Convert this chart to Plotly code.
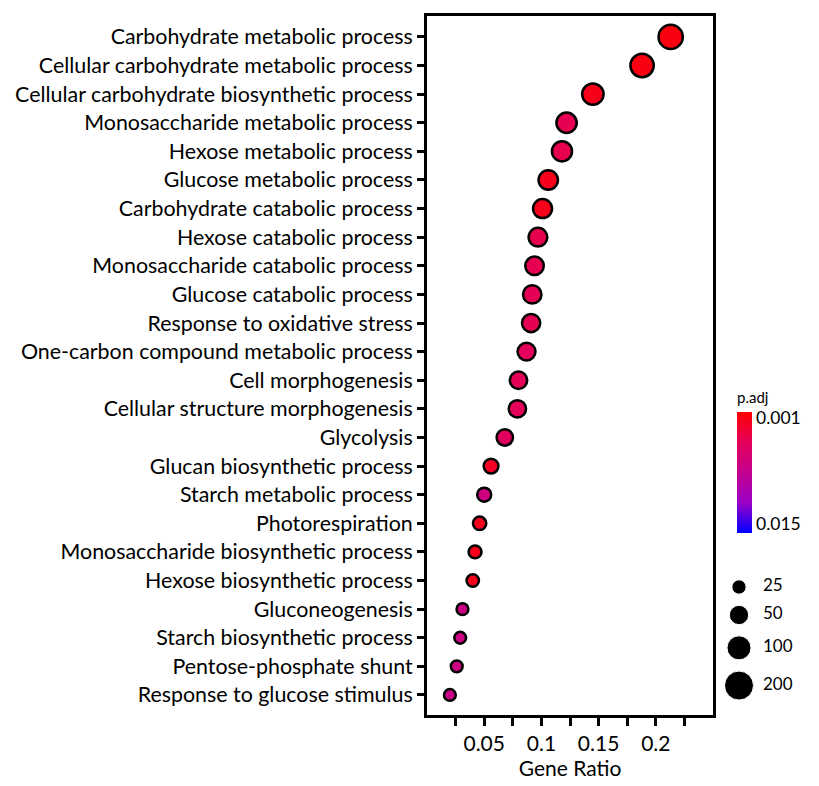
import numpy as np
import plotly.graph_objects as go

# GO terms, top to bottom
terms = [
    "Carbohydrate metabolic process",
    "Cellular carbohydrate metabolic process",
    "Cellular carbohydrate biosynthetic process",
    "Monosaccharide metabolic process",
    "Hexose metabolic process",
    "Glucose metabolic process",
    "Carbohydrate catabolic process",
    "Hexose catabolic process",
    "Monosaccharide catabolic process",
    "Glucose catabolic process",
    "Response to oxidative stress",
    "One-carbon compound metabolic process",
    "Cell morphogenesis",
    "Cellular structure morphogenesis",
    "Glycolysis",
    "Glucan biosynthetic process",
    "Starch metabolic process",
    "Photorespiration",
    "Monosaccharide biosynthetic process",
    "Hexose biosynthetic process",
    "Gluconeogenesis",
    "Starch biosynthetic process",
    "Pentose-phosphate shunt",
    "Response to glucose stimulus",
]
gene_ratio = [0.213, 0.188, 0.145, 0.122, 0.118, 0.106, 0.101, 0.097, 0.094, 0.092,
              0.091, 0.087, 0.080, 0.079, 0.068, 0.056, 0.050, 0.046, 0.042, 0.040,
              0.031, 0.029, 0.026, 0.020]
counts = [146, 129, 99, 84, 81, 73, 69, 66, 64, 63, 62, 59, 55, 54, 47, 38, 34, 31,
          29, 27, 21, 20, 18, 14]
p_adj = [0.0008, 0.0009, 0.0013, 0.0039, 0.0037, 0.0015, 0.0014, 0.0037, 0.0038,
         0.0040, 0.0039, 0.0042, 0.0041, 0.0043, 0.0045, 0.0018, 0.0071, 0.0015,
         0.0013, 0.0014, 0.0074, 0.0072, 0.0073, 0.0075]
p_limits = [0.0002, 0.0162]   # colour bar ends
p_breaks = [0.001, 0.015]
p_break_labels = ["0.001", "0.015"]

# size legend
size_breaks = [25, 50, 100, 200]
size_labels = ["25", "50", "100", "200"]
size_diam = [14.3, 19.3, 24, 29]  # px, size scale

x_ticks = [0.025, 0.05, 0.075, 0.1, 0.125, 0.15, 0.175, 0.2, 0.225]
x_ticktext = ["", "0.05", "", "0.1", "", "0.15", "", "0.2", ""]

FONT = "Lato"
OUTLINE = 2.5

diam = np.interp(np.log(counts), np.log(size_breaks), size_diam)
# red at small p.adj, blue at large; negated so red sits on top of the bar
scale = [[0, "#0000FF"], [0.25, "#9A00C8"], [0.5, "#C4008F"],
         [0.75, "#E4005A"], [1, "#FF0000"]]

fig = go.Figure()
fig.add_trace(go.Scatter(
    x=gene_ratio, y=terms, mode="markers", showlegend=False,
    marker=dict(
        size=diam - OUTLINE, opacity=1,
        color=[-p for p in p_adj], cmin=-p_limits[1], cmax=-p_limits[0],
        colorscale=scale,
        line=dict(color="black", width=OUTLINE),
        colorbar=dict(
            title=dict(text="p.adj", side="top", font=dict(family=FONT, size=15)),
            tickvals=[-b for b in p_breaks], ticktext=p_break_labels,
            tickfont=dict(family=FONT, size=17.5), ticks="", outlinewidth=0,
            thickness=15, lenmode="pixels", len=144,
            x=0.791, xanchor="left", y=0.364, yanchor="middle",
            xpad=0, ypad=0,
        ),
    ),
))

# size legend drawn on its own small axes
gap = 11.2
centers = [27.0]
for i in range(1, len(size_diam)):
    centers.append(centers[-1] + (size_diam[i - 1] + size_diam[i]) / 2 + gap)
fig.add_trace(go.Scatter(
    x=[14] * len(size_breaks), y=centers, mode="markers", showlegend=False,
    marker=dict(size=size_diam, color="black", opacity=1), xaxis="x2", yaxis="y2",
    hoverinfo="skip",
))
fig.add_trace(go.Scatter(
    x=[38] * len(size_breaks), y=centers, mode="text", text=size_labels,
    textposition="middle right", textfont=dict(family=FONT, size=17, color="black"),
    showlegend=False, xaxis="x2", yaxis="y2", hoverinfo="skip",
))

# page body adds an 8px offset, so the figure is 8px smaller than the window
fig.update_layout(
    width=811, height=778,
    margin=dict(l=419, r=0, t=8, b=71),
    plot_bgcolor="white", paper_bgcolor="white",
    font=dict(family=FONT, color="black"),
    xaxis=dict(
        domain=[0, 286 / 392], range=[0, 0.25], automargin=False,
        tickvals=x_ticks, ticktext=x_ticktext,
        ticks="outside", ticklen=8, tickwidth=2.5, tickcolor="black",
        tickfont=dict(family=FONT, size=21),
        showline=True, linewidth=3, linecolor="black", mirror=True,
        showgrid=False, zeroline=False,
        title=dict(text="Gene Ratio", font=dict(family=FONT, size=21), standoff=6),
    ),
    yaxis=dict(
        type="category", categoryorder="array", categoryarray=terms,
        range=[23.7, -0.73], automargin=False,
        ticks="outside", ticklen=7, tickwidth=2.5, tickcolor="black",
        tickfont=dict(family=FONT, size=21.4),
        showline=True, linewidth=3, linecolor="black", mirror=True,
        showgrid=False, zeroline=False,
    ),
    xaxis2=dict(domain=[298 / 392, 1], range=[0, 94], visible=False, anchor="y2"),
    yaxis2=dict(domain=[0, 155 / 699], range=[155, 0], visible=False, anchor="x2"),
)

fig.write_html("out.html")
